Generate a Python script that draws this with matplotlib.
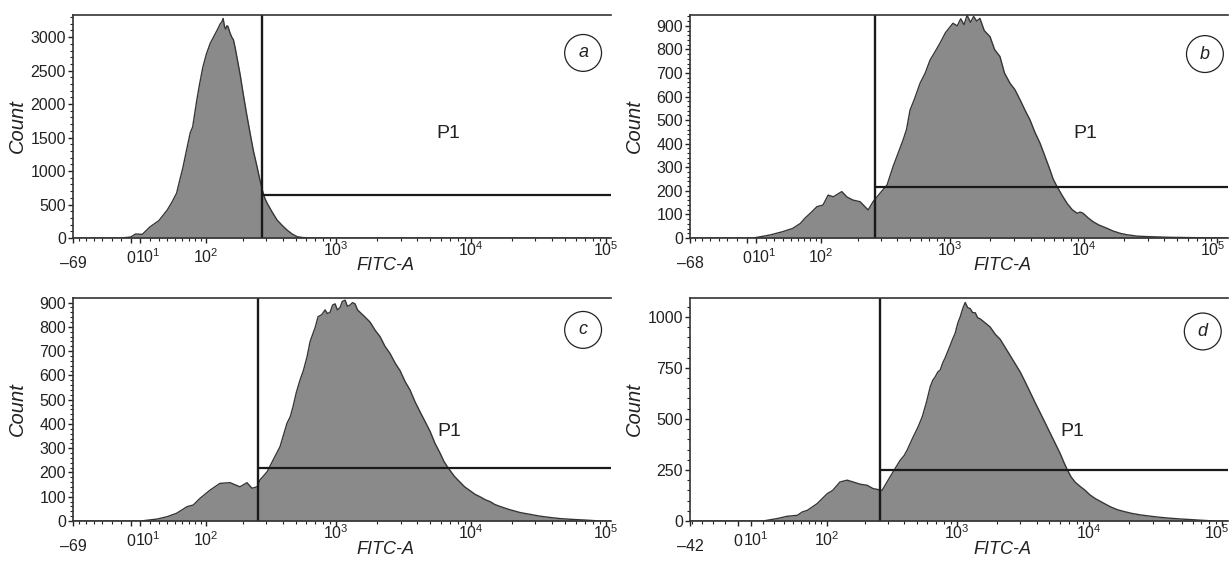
import matplotlib.pyplot as plt
from matplotlib.ticker import FixedLocator, MultipleLocator, NullFormatter
from matplotlib.transforms import ScaledTranslation

plt.rcParams['font.family'] = ['Liberation Sans', 'DejaVu Sans']
plt.rcParams['mathtext.fontset'] = 'custom'
plt.rcParams['mathtext.rm'] = 'Liberation Sans'
plt.rcParams['mathtext.it'] = 'Liberation Sans:italic'

# histogram outlines (FITC-A value, count)
a_fitc = [-69, -10, 0, 5, 12, 20, 30, 40, 46, 52, 56, 61, 66, 72, 76, 83, 88, 94, 101, 109,
          116, 124, 132, 136, 139, 143, 146, 149, 152, 158, 163, 168, 173, 179, 190, 200, 212,
          226, 240, 256, 268, 280, 292, 305, 330, 362, 395, 430, 470, 512, 560, 640, 109000]
a_count = [0, 0, 15, 60, 55, 165, 260, 420, 540, 670, 850, 1060, 1300, 1570, 1660, 2060, 2300,
           2550, 2750, 2910, 3000, 3100, 3200, 3230, 3280, 3150, 3120, 3170, 3160, 3060, 3000,
           2960, 2850, 2700, 2430, 2160, 1870, 1570, 1300, 1060, 880, 720, 600, 520, 400, 270,
           190, 120, 60, 20, 8, 0, 0]

b_fitc = [-68, 7, 25, 40, 53, 64, 71, 80, 92, 104, 115, 127, 149, 164, 183, 208, 240, 262, 296,
          335, 372, 443, 470, 500, 540, 595, 650, 707, 770, 840, 920, 980, 1050, 1130, 1200,
          1270, 1340, 1420, 1500, 1580, 1670, 1800, 1990, 2150, 2360, 2550, 2810, 3050, 3340,
          3650, 3960, 4300, 4710, 5100, 5590, 5900, 6310, 6900, 7500, 8200, 8920, 9400, 9890,
          10800, 11750, 13000, 14950, 16500, 18700, 21000, 25100, 30000, 44200, 80000, 120000]
b_count = [0, 0, 13, 27, 41, 62, 84, 105, 133, 140, 182, 175, 197, 174, 161, 154, 119, 154, 190,
           225, 303, 416, 460, 543, 590, 657, 700, 755, 790, 827, 870, 890, 911, 900, 930,
           905, 945, 915, 940, 920, 932, 880, 854, 800, 770, 700, 656, 630, 586,
           540, 501, 450, 402, 350, 289, 250, 218, 180, 147, 120, 105, 110, 105,
           85, 69, 55, 41, 30, 20, 14, 8, 6, 3, 1, 0]

c_fitc = [-69, 10, 28, 40, 52, 67, 77, 89, 109, 131, 158, 189, 214, 234, 256, 269, 305, 338, 381,
          430, 455, 477, 505, 538, 570, 607, 640, 673, 700, 733, 780, 826, 860, 900, 940, 981,
          1020, 1068, 1110, 1164, 1210, 1267, 1320, 1379, 1440, 1503, 1640, 1781, 1950, 2114,
          2300, 2509, 2740, 2973, 3240, 3527, 3850, 4185, 4560, 4962, 5400, 5886, 6300, 6741,
          7500, 8277, 9000, 9819, 10700, 11643, 12700, 13812, 15000, 16386, 19000, 23046,
          27000, 32400, 38000, 45600, 55000, 64140, 75000, 90210, 109000]
c_count = [0, 0, 8, 18, 32, 59, 66, 94, 128, 155, 158, 141, 158, 135, 141, 169, 203, 251, 306,
           403, 430, 471, 530, 581, 620, 677, 740, 774, 800, 842, 850, 870, 855, 860, 890, 895,
           870, 880, 905, 910, 885, 890, 900, 895, 870, 860, 840, 820, 785, 760,
           720, 690, 650, 620, 575, 540, 490, 450, 410, 370, 320, 280, 245, 220,
           185, 160, 140, 125, 110, 100, 88, 80, 68, 60, 48, 35,
           28, 20, 15, 10, 7, 5, 3, 0, 0]

d_fitc = [-42, 20, 33, 43, 55, 61, 68, 83, 101, 112, 128, 146, 163, 185, 209, 232, 272, 313, 374,
          400, 422, 445, 469, 510, 549, 590, 631, 660, 688, 720, 750, 785, 819, 855, 893, 930,
          974, 1020, 1063, 1110, 1158, 1210, 1264, 1320, 1379, 1440, 1503, 1640, 1787, 1950,
          2126, 2320, 2531, 2760, 3010, 3290, 3582, 3900, 4259, 4650, 5067, 5530, 6030, 6400,
          6804, 7300, 7819, 8500, 9306, 10100, 11061, 12600, 14362, 16300, 18641, 21000, 24190,
          28500, 34200, 40000, 48400, 58000, 68470, 78000, 88880, 111000]
d_count = [0, 0, 12, 23, 28, 44, 52, 85, 134, 150, 191, 200, 191, 180, 175, 159, 150, 216, 298,
           320, 347, 380, 412, 460, 510, 580, 657, 690, 706, 730, 739, 775, 800, 830, 860, 890,
           920, 970, 1000, 1040, 1070, 1045, 1040, 1020, 1020, 995, 990, 970, 950, 915,
           890, 850, 810, 770, 730, 680, 630, 580, 530, 480, 430, 380, 330, 290,
           252, 215, 190, 170, 150, 128, 110, 90, 70, 55, 45, 37, 30,
           24, 18, 14, 10, 7, 4, 2, 0, 0]

# axis ranges and P1 gates
x_min = [-69, -68, -69, -42]
x_max = [109000, 120000, 109000, 111000]
lin_width = [60, 60, 60, 45]
y_top = [3330, 946, 919, 1092]
y_major = [500, 100, 100, 250]
y_minor = [100, 20, 20, 50]
gate_x = [279, 271, 262, 263]
gate_y = [641, 218, 220, 252]
tags = ['a', 'b', 'c', 'd']
x_tick_labels = ['0', '$10^1$', '$10^2$', '$10^3$', '$10^4$', '$10^5$']
x_tick_values = [0, 10, 100, 1000, 10000, 100000]
x_minor_values = [-60, -50, -40, -30, -20, -10, 20, 30, 40, 50, 60, 70, 80, 90,
                  200, 300, 400, 500, 600, 700, 800, 900,
                  2000, 3000, 4000, 5000, 6000, 7000, 8000, 9000,
                  20000, 30000, 40000, 50000, 60000, 70000, 80000, 90000]

fitcs = [a_fitc, b_fitc, c_fitc, d_fitc]
counts = [a_count, b_count, c_count, d_count]

rects = [[0.0593, 0.5802, 0.4367, 0.3933], [0.5601, 0.5802, 0.4367, 0.3933],
         [0.0593, 0.0811, 0.4367, 0.3933], [0.5601, 0.0811, 0.4367, 0.3933]]
p1_pos = [(0.697, 0.47), (0.734, 0.47), (0.70, 0.40), (0.71, 0.40)]
tag_pos = [(0.948, 0.83), (0.957, 0.825), (0.948, 0.857), (0.953, 0.85)]
xlab_y = [-0.085, -0.085, -0.09, -0.09]
# vertical drop (px) of the x tick labels: low-end labels sit lower in the original
label_drop = [12, 7, 7, 7, 0, 0, 0]

fig = plt.figure(figsize=(12.32, 5.67), dpi=100)
inch = fig.dpi_scale_trans
dark = '#222222'

for i in range(4):
    ax = fig.add_axes(rects[i])
    ax.set_xscale('asinh', linear_width=lin_width[i])
    ax.fill_between(fitcs[i], counts[i], 0, color='#8a8a8a', lw=0)
    ax.plot(fitcs[i], counts[i], color='#363636', lw=1.0)
    ax.axvline(gate_x[i], color='#1a1a1a', lw=1.7)
    ax.hlines(gate_y[i], gate_x[i], x_max[i], color='#1a1a1a', lw=1.6)
    ax.set_xlim(x_min[i], x_max[i])
    ax.set_ylim(0, y_top[i])

    ax.spines['right'].set_visible(False)
    for s in ['left', 'bottom', 'top']:
        ax.spines[s].set_color('#333333')
        ax.spines[s].set_linewidth(1.2)

    ax.set_xticks([x_min[i]] + x_tick_values, ['–%d' % -x_min[i]] + x_tick_labels)
    ax.xaxis.set_minor_locator(FixedLocator([v for v in x_minor_values if v > x_min[i]]))
    ax.xaxis.set_minor_formatter(NullFormatter())
    ax.yaxis.set_major_locator(MultipleLocator(y_major[i]))
    ax.yaxis.set_minor_locator(MultipleLocator(y_minor[i]))

    ax.tick_params(axis='x', which='major', length=3.6, width=1, pad=9.4, labelsize=11.5,
                   colors=dark)
    ax.tick_params(axis='x', which='minor', length=2.2, width=0.8, colors=dark)
    ax.tick_params(axis='y', which='major', length=3.6, width=1, pad=1.5, labelsize=11.5,
                   colors=dark)
    ax.tick_params(axis='y', which='minor', length=2.2, width=0.8, colors=dark)

    # space between the "0" and "10^1" ticks, in pixels
    p0 = ax.transData.transform((0, 0))[0]
    p10 = ax.transData.transform((10, 0))[0]

    ticks = ax.xaxis.get_major_ticks()
    for k, t in enumerate(ticks):
        t.label1.set_va('baseline')
        dx = 0.0
        if k == 2:
            t.label1.set_ha('left')
            dx = -(p10 - p0 - 4.5)
        if k == 6 and i in (1, 3):
            t.label1.set_ha('right')
            dx = 8
        t.label1.set_transform(t.label1.get_transform()
                               + ScaledTranslation(dx / 100, -label_drop[k] / 100, inch))

    ax.set_xlabel('FITC-A', style='italic', fontsize=13, color=dark)
    ax.xaxis.set_label_coords(0.58, xlab_y[i])
    ax.set_ylabel('Count', style='italic', fontsize=14.5, color=dark)
    ax.yaxis.set_label_coords(-0.085, 0.5)

    ax.text(p1_pos[i][0], p1_pos[i][1], 'P1', transform=ax.transAxes, fontsize=14,
            ha='center', va='center', color=dark)
    ax.text(tag_pos[i][0], tag_pos[i][1], tags[i], transform=ax.transAxes, fontsize=13,
            style='italic', ha='center', va='center', color=dark,
            bbox=dict(boxstyle='circle,pad=0.55', fc='white', ec=dark, lw=0.9))

fig.savefig('out.png', dpi=100)
